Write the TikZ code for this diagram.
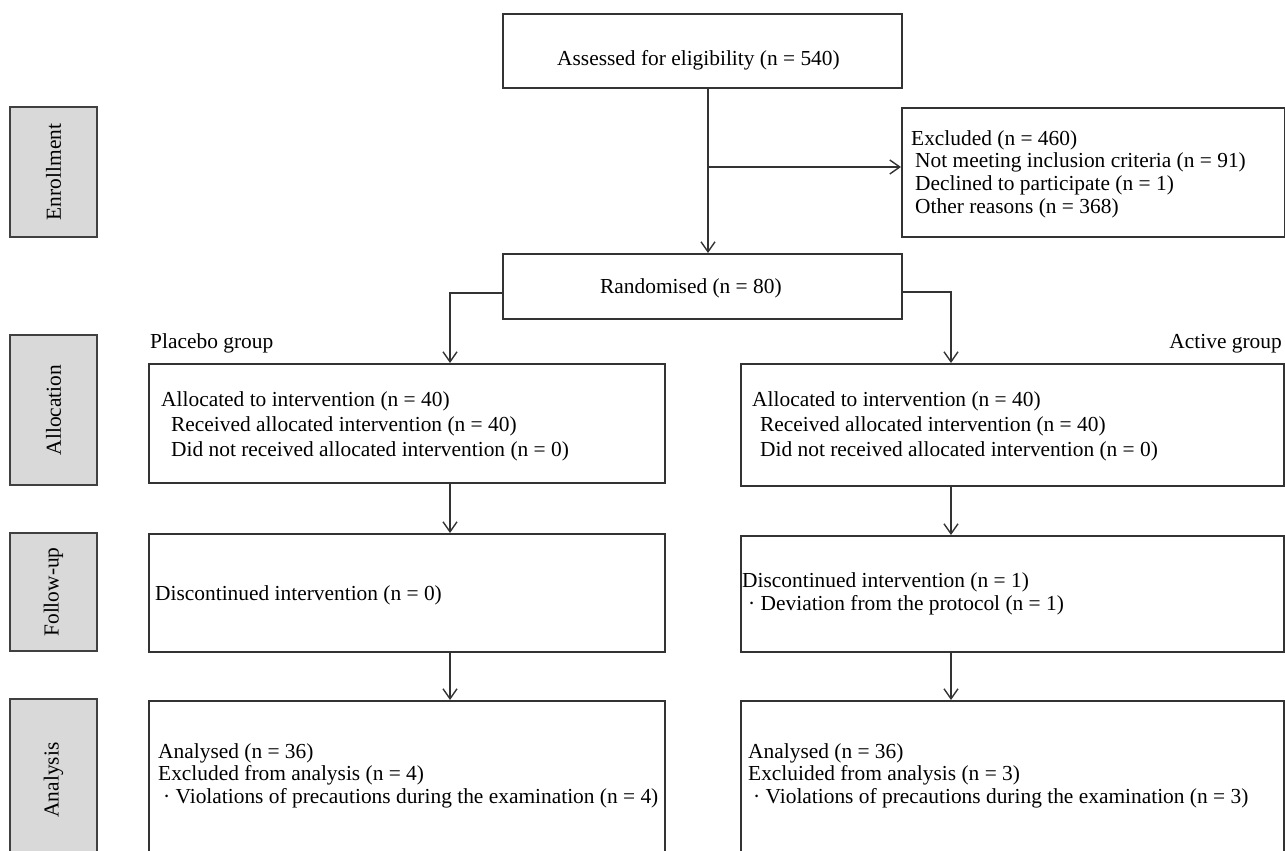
\documentclass[tikz,border=0pt]{standalone}
\usepackage{fontspec}
\setmainfont{Liberation Serif}
\usetikzlibrary{arrows.meta}
\begin{document}
\begin{tikzpicture}[x=1pt,y=-1pt,
  box/.style={draw=black!80, line width=1.6pt, anchor=north west, inner sep=0pt},
  side/.style={draw=black!75, fill=black!15, line width=1.8pt, inner sep=0pt, rotate=90, font=\fontsize{21.4}{24}\selectfont},
  txt/.style={anchor=base west, inner sep=0pt, font=\fontsize{21.4}{#1}\selectfont},
  txt/.default=24,
  arr/.style={draw=black!80, line width=1.4pt, -{Straight Barb[length=10pt,width=14pt,line width=1.4pt]}},
]
\path[use as bounding box] (0,0) rectangle (1285,851);
\clip (0,0) rectangle (1285,851);

% phase labels
\node[side, minimum width=130, minimum height=87] (sEnr) at (53.5,172) {Enrollment};
\node[side, minimum width=150, minimum height=87] (sAll) at (53.5,410) {Allocation};
\node[side, minimum width=118, minimum height=87] (sFol) at (53.5,592) {Follow-up};
\node[side, minimum width=162, minimum height=87] (sAna) at (53.5,780) {Analysis};

% boxes
\node[box, minimum width=399, minimum height=74] (assess) at (502,13) {};
\node[box, minimum width=383, minimum height=129] (excl) at (901,107) {};
\node[box, minimum width=399, minimum height=65] (rand) at (502,253) {};
\node[box, minimum width=516, minimum height=119] (allocL) at (148,363) {};
\node[box, minimum width=543, minimum height=122] (allocR) at (740,363) {};
\node[box, minimum width=516, minimum height=118] (fuL) at (148,533) {};
\node[box, minimum width=543, minimum height=116] (fuR) at (740,535) {};
\node[box, minimum width=516, minimum height=200] (anL) at (148,700) {};
\node[box, minimum width=543, minimum height=200] (anR) at (740,700) {};

% texts
\node[txt] (tAssess) at (557,66) {Assessed for eligibility (n = 540)};
\node[txt=22.7] (tExcl) at (911,145) {\begin{tabular}[t]{@{}l@{}}Excluded (n = 460)\\
\hspace{4pt}Not meeting inclusion criteria (n = 91)\\
\hspace{4pt}Declined to participate (n = 1)\\
\hspace{4pt}Other reasons (n = 368)\end{tabular}};
\node[txt] (tRand) at (600,293) {Randomised (n = 80)};
\node[txt] (tPlac) at (150,348) {Placebo group};
\node[txt, anchor=base east] (tAct) at (1282,348) {Active group};
\node[txt=25] (tAllocL) at (161,406) {\begin{tabular}[t]{@{}l@{}}Allocated to intervention (n = 40)\\
\hspace{10pt}Received allocated intervention (n = 40)\\
\hspace{10pt}Did not received allocated intervention (n = 0)\end{tabular}};
\node[txt=25] (tAllocR) at (752,406) {\begin{tabular}[t]{@{}l@{}}Allocated to intervention (n = 40)\\
\hspace{8pt}Received allocated intervention (n = 40)\\
\hspace{8pt}Did not received allocated intervention (n = 0)\end{tabular}};
\node[txt] (tFuL) at (155,600) {Discontinued intervention (n = 0)};
\node[txt=23] (tFuR) at (742,587) {\begin{tabular}[t]{@{}l@{}}Discontinued intervention (n = 1)\\
\hspace{6pt}· Deviation from the protocol (n = 1)\end{tabular}};
\node[txt=22.5] (tAnL) at (158,758) {\begin{tabular}[t]{@{}l@{}}Analysed (n = 36)\\
Excluded from analysis (n = 4)\\
\hspace{5pt}· Violations of precautions during the examination (n = 4)\end{tabular}};
\node[txt=22.5] (tAnR) at (748,758) {\begin{tabular}[t]{@{}l@{}}Analysed (n = 36)\\
Excluided from analysis (n = 3)\\
\hspace{5pt}· Violations of precautions during the examination (n = 3)\end{tabular}};

% connector columns
\coordinate (colM) at (708,0);
\coordinate (colL) at (450,0);
\coordinate (colR) at (951,0);
\coordinate (brX) at (708,167);

% connectors
\draw[arr] (assess.south -| colM) -- (rand.north -| colM);
\draw[arr] (brX) -- (brX -| excl.west);
\draw[arr] ([yshift=-6.5pt]rand.west) -| (allocL.north -| colL);
\draw[arr] ([yshift=-5.5pt]rand.east) -| (allocR.north -| colR);
\draw[arr] (allocL.south -| colL) -- (fuL.north -| colL);
\draw[arr] (allocR.south -| colR) -- (fuR.north -| colR);
\draw[arr] (fuL.south -| colL) -- (anL.north -| colL);
\draw[arr] (fuR.south -| colR) -- (anR.north -| colR);
\end{tikzpicture}
\end{document}
